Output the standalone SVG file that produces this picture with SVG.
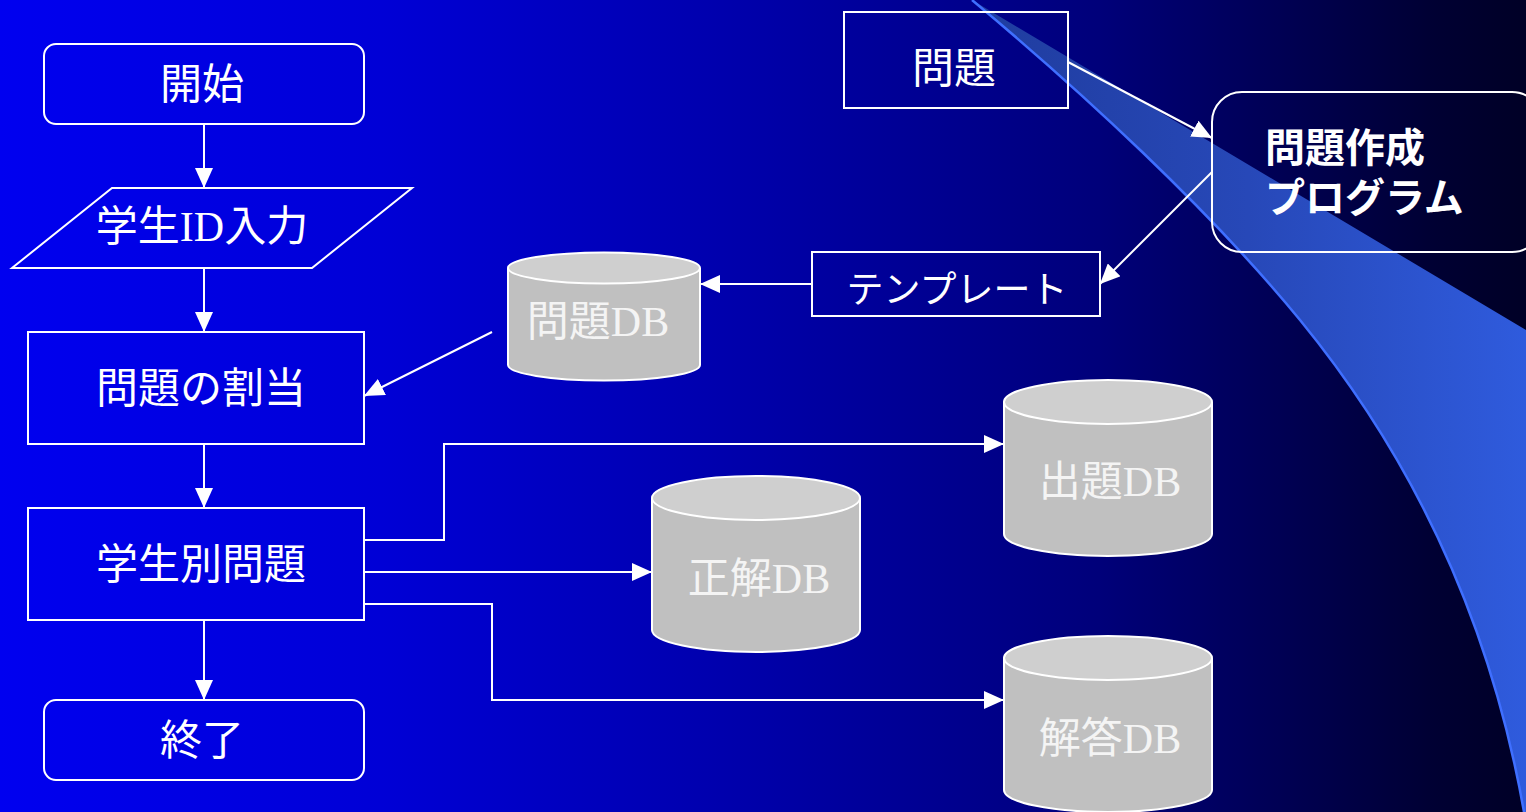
<svg xmlns="http://www.w3.org/2000/svg" width="1526" height="812" viewBox="0 0 1526 812">
<defs>
<linearGradient id="bg" x1="0" y1="0" x2="1526" y2="0" gradientUnits="userSpaceOnUse">
<stop offset="0" stop-color="#0000F0"/>
<stop offset="0.25" stop-color="#0000D6"/>
<stop offset="0.5" stop-color="#0000A8"/>
<stop offset="0.72" stop-color="#00007A"/>
<stop offset="0.94" stop-color="#000033"/>
<stop offset="1" stop-color="#000026"/>
</linearGradient>
<linearGradient id="sw" x1="970" y1="0" x2="1526" y2="0" gradientUnits="userSpaceOnUse">
<stop offset="0" stop-color="#1F3C9E"/>
<stop offset="0.5" stop-color="#2748B8"/>
<stop offset="1" stop-color="#2F5BDD"/>
</linearGradient>
<marker id="ah" markerWidth="20" markerHeight="18" refX="20" refY="9" orient="auto" markerUnits="userSpaceOnUse">
<path d="M0,0 L20,9 L0,18 Z" fill="#FFFFFF"/>
</marker>
<style>
.box{fill:none;stroke:#FFFFFF;stroke-width:2}
.lbl{fill:#FFFFFF;font-family:"Liberation Serif","Noto Sans CJK JP",serif;font-size:42px;text-anchor:middle}
.bold{fill:#FFFFFF;font-family:"Noto Sans CJK JP","Liberation Sans",sans-serif;font-size:40px;font-weight:bold}
.dbl{fill:#F4F4F4;font-family:"Liberation Serif","Noto Sans CJK JP",serif;font-size:42px;text-anchor:middle}
.cylb{fill:#C0C0C0;stroke:#FFFFFF;stroke-width:2}
.cylt{fill:#CFCFCF;stroke:#FFFFFF;stroke-width:2}
.con{fill:none;stroke:#FFFFFF;stroke-width:2;marker-end:url(#ah)}
</style>
</defs>
<rect x="0" y="0" width="1526" height="812" fill="url(#bg)"/>
<g id="decoration">
<path d="M972,0 L1526,330 L1526,812 L1524,812 C1485,590 1390,430 1300,320 C1210,210 1080,90 972,0 Z" fill="url(#sw)"/>
<path d="M972,0 C1080,90 1210,210 1300,320 C1390,430 1485,590 1524,812" fill="none" stroke="#3F6FFF" stroke-width="2.5"/>
</g>
<g id="connectors">
<line class="con" x1="204" y1="124" x2="204" y2="188"/>
<line class="con" x1="204" y1="268" x2="204" y2="332"/>
<line class="con" x1="204" y1="444" x2="204" y2="508"/>
<line class="con" x1="204" y1="620" x2="204" y2="700"/>
<line class="con" x1="1068" y1="62" x2="1212" y2="138"/>
<line class="con" x1="1212" y1="172" x2="1100" y2="284"/>
<line class="con" x1="812" y1="284" x2="700" y2="284"/>
<line class="con" x1="492" y1="332" x2="364" y2="396"/>
<polyline class="con" points="364,540 444,540 444,444 1004,444"/>
<line class="con" x1="364" y1="572" x2="652" y2="572"/>
<polyline class="con" points="364,604 492,604 492,700 1004,700"/>
</g>
<g id="start">
<rect class="box" x="44" y="44" width="320" height="80" rx="12"/>
<text class="lbl" x="202" y="99">開始</text>
</g>
<g id="input">
<polygon class="box" points="12,268 112,188 412,188 312,268"/>
<text class="lbl" x="202" y="241">学生ID入力</text>
</g>
<g id="assign">
<rect class="box" x="28" y="332" width="336" height="112"/>
<text class="lbl" x="201" y="403">問題の割当</text>
</g>
<g id="student">
<rect class="box" x="28" y="508" width="336" height="112"/>
<text class="lbl" x="201" y="579">学生別問題</text>
</g>
<g id="end">
<rect class="box" x="44" y="700" width="320" height="80" rx="12"/>
<text class="lbl" x="202" y="755">終了</text>
</g>
<g id="question">
<rect class="box" x="844" y="12" width="224" height="96"/>
<text class="lbl" x="954" y="83">問題</text>
</g>
<g id="program">
<rect class="box" x="1212" y="92" width="330" height="160" rx="30"/>
<text class="bold" x="1265" y="162">問題作成</text>
<text class="bold" x="1265" y="212">プログラム</text>
</g>
<g id="template">
<rect class="box" x="812" y="252" width="288" height="64"/>
<text class="lbl" x="957" y="303" style="font-size:37px">テンプレート</text>
</g>
<g id="qdb">
<path class="cylb" d="M508,268 L508,365 A96,15.5 0 0 0 700,365 L700,268"/>
<ellipse class="cylt" cx="604" cy="268" rx="96" ry="15.5"/>
<text class="dbl" x="598" y="336">問題DB</text>
</g>
<g id="givendb">
<path class="cylb" d="M1004,402 L1004,534 A104,22 0 0 0 1212,534 L1212,402"/>
<ellipse class="cylt" cx="1108" cy="402" rx="104" ry="22"/>
<text class="dbl" x="1110" y="496">出題DB</text>
</g>
<g id="correctdb">
<path class="cylb" d="M652,498 L652,630 A104,22 0 0 0 860,630 L860,498"/>
<ellipse class="cylt" cx="756" cy="498" rx="104" ry="22"/>
<text class="dbl" x="759" y="593">正解DB</text>
</g>
<g id="answerdb">
<path class="cylb" d="M1004,658 L1004,790 A104,22 0 0 0 1212,790 L1212,658"/>
<ellipse class="cylt" cx="1108" cy="658" rx="104" ry="22"/>
<text class="dbl" x="1110" y="753">解答DB</text>
</g>
</svg>
